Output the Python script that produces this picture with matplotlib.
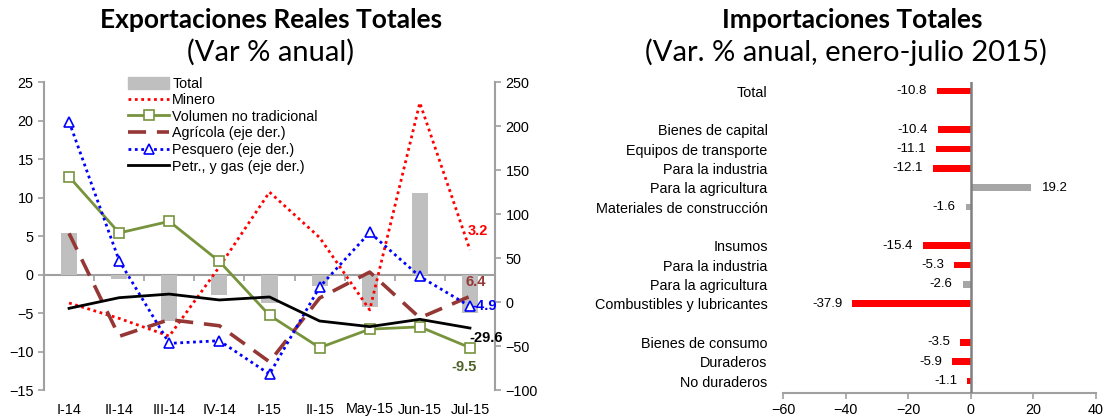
import matplotlib
matplotlib.use("Agg")
import matplotlib.pyplot as plt
from matplotlib.patches import Patch
from matplotlib.lines import Line2D

plt.rcParams['font.family'] = ['Liberation Sans', 'DejaVu Sans']

# ---- left chart data: Exportaciones Reales Totales (Var % anual)
periodos = ["I-14", "II-14", "III-14", "IV-14", "I-15", "II-15", "May-15", "Jun-15", "Jul-15"]
total = [5.4, -0.6, -6.0, -2.7, -3.7, -1.5, -4.2, 10.6, -5.0]
minero = [-3.7, -5.7, -8.0, 1.0, 10.7, 4.8, -4.6, 22.3, 3.2]
volumen_nt = [12.7, 5.4, 6.9, 1.7, -5.3, -9.5, -7.1, -6.8, -9.5]
agricola = [78, -39, -20, -27, -68, 4.5, 34, -18, 6.4]          # eje der.
pesquero = [205, 47, -47, -44, -82, 17, 79, 29, -4.9]            # eje der.
petr_gas = [-7.2, 4.9, 9.0, 2.3, 5.7, -21.6, -28.0, -19.7, -29.6]  # eje der.

# ---- right chart data: Importaciones Totales (enero-julio 2015)
imp_labels = ["Total", "", "Bienes de capital", "Equipos de transporte", "Para la industria",
              "Para la agricultura", "Materiales de construcción", "", "Insumos",
              "Para la industria", "Para la agricultura", "Combustibles y lubricantes", "",
              "Bienes de consumo", "Duraderos", "No duraderos"]
imp_values = [-10.8, None, -10.4, -11.1, -12.1, 19.2, -1.6, None, -15.4, -5.3, -2.6, -37.9,
              None, -3.5, -5.9, -1.1]
gray_rows = [5, 6, 10]   # rows drawn in gray instead of red

AX_GRAY = "#A0A0A0"
RED = "#FF0000"
GREEN = "#77933C"
BROWN = "#953735"
BLUE = "#0000FF"
TITLE_FONT = ["Lato", "DejaVu Sans"]

fig = plt.figure(figsize=(11.04, 4.2), dpi=100)

# ================= left chart =================
ax = fig.add_axes([44/1104, 1-390/420, 451/1104, 308/420])
ax2 = ax.twinx()
x = list(range(len(periodos)))

mk = dict(ms=6.5, mfc="white", mew=1.2)
ax.bar(x, total, width=0.32, color="#BFBFBF", zorder=1)
ax.plot(x, minero, color=RED, lw=2, ls=(0, (1, 1.3)), zorder=3)
ax.plot(x, volumen_nt, color=GREEN, lw=2, marker="s", mec=GREEN, zorder=3, **mk)
ax2.plot(x, agricola, color=BROWN, lw=2.6, ls=(0, (5, 3)), zorder=3)
ax2.plot(x, pesquero, color=BLUE, lw=2, ls=(0, (1, 1.3)), marker="^", mec=BLUE, zorder=3, **mk)
ax2.plot(x, petr_gas, color="black", lw=2, zorder=3)

ax.set_xlim(-0.5, 8.5)
ax.set_ylim(-15, 25)
ax2.set_ylim(-100, 250)
ax.set_yticks(range(-15, 26, 5))
ax2.set_yticks(range(-100, 251, 50))
ax.axhline(0, color=AX_GRAY, lw=1.5, zorder=0.5)

ax.set_xticks(x)
ax.set_xticklabels(periodos, fontsize=10.4)
ax.tick_params(axis="x", length=0, pad=9)
ax.tick_params(axis="y", labelsize=10.4, length=4, width=1.2, color=AX_GRAY, direction="out")
ax2.tick_params(axis="y", labelsize=10.4, length=4, width=1.2, color=AX_GRAY, direction="out")

for a in (ax, ax2):
    for s in ("top", "bottom"):
        a.spines[s].set_visible(False)
ax.spines["right"].set_visible(False)
ax.spines["left"].set_color(AX_GRAY)
ax.spines["left"].set_linewidth(1.5)
ax2.spines["left"].set_visible(False)
ax2.spines["right"].set_color(AX_GRAY)
ax2.spines["right"].set_linewidth(1.5)

# small boundary ticks on zero line
zero_loc = (0 - (-15)) / 40
sec = ax.secondary_xaxis(zero_loc)
sec.set_xticks([i + 0.5 for i in x[:-1]])
sec.tick_params(length=4, width=1.2, color=AX_GRAY, direction="out", labelbottom=False,
                labeltop=False)
sec.spines["bottom"].set_visible(False)
sec.spines["top"].set_visible(False)

handles = [
    Patch(color="#BFBFBF"),
    Line2D([], [], color=RED, lw=2, ls=(0, (1, 1.3))),
    Line2D([], [], color=GREEN, lw=2, marker="s", mec=GREEN, **mk),
    Line2D([], [], color=BROWN, lw=2.6, ls=(0, (5, 3))),
    Line2D([], [], color=BLUE, lw=2, ls=(0, (1, 1.3)), marker="^", mec=BLUE, **mk),
    Line2D([], [], color="black", lw=2),
]
labels = ["Total", "Minero", "Volumen no tradicional", "Agrícola (eje der.)",
          "Pesquero (eje der.)", "Petr., y gas (eje der.)"]
ax2.legend(handles, labels, loc="upper left", bbox_to_anchor=(0.186, 1.017), frameon=False,
           fontsize=10.3, labelspacing=0.18, handlelength=2.9, handletextpad=0.2,
           borderpad=0, borderaxespad=0, handleheight=0.9)

bold = dict(fontsize=10.5, fontweight="bold", ha="center", va="center",
            textcoords="offset pixels")
ax.annotate("3.2", (8, minero[-1]), xytext=(8, 19), color=RED, **bold)
ax2.annotate("6.4", (8, agricola[-1]), xytext=(6, 14), color=BROWN, **bold)
ax2.annotate("-4.9", (8, pesquero[-1]), xytext=(14, 0), color=BLUE, **bold)
ax2.annotate("-29.6", (8, petr_gas[-1]), xytext=(16, -10), color="black", **bold)
ax.annotate("-9.5", (8, volumen_nt[-1]), xytext=(-6, -19), color="#4F6228", **bold)

fig.text(271/1104, 1-20/420, "Exportaciones Reales Totales", ha="center", va="center",
         fontsize=19, fontweight="bold", family=TITLE_FONT)
fig.text(271/1104, 1-52/420, "(Var % anual)", ha="center", va="center",
         fontsize=21, family=TITLE_FONT)

# ================= right chart =================
bx = fig.add_axes([783/1104, 1-393/420, 313/1104, 311/420])
rows = [i for i, v in enumerate(imp_values) if v is not None]
vals = [imp_values[i] for i in rows]
cols = ["#A6A6A6" if i in gray_rows else RED for i in rows]
bx.barh(rows, vals, height=0.35, color=cols, zorder=2)
for r, v in zip(rows, vals):
    if v < 0:
        bx.annotate(f"{v:.1f}", (v, r), xytext=(-10, 0), textcoords="offset pixels",
                    ha="right", va="center", fontsize=9.5)
    else:
        bx.annotate(f"{v:.1f}", (v, r), xytext=(11, 0), textcoords="offset pixels",
                    ha="left", va="center", fontsize=9.5)

bx.set_xlim(-60, 40)
bx.set_ylim(15.62, -0.47)
bx.set_xticks(range(-60, 41, 20))
bx.set_yticks(rows)
bx.set_yticklabels([imp_labels[i] for i in rows], fontsize=10.4)
bx.tick_params(axis="y", length=0, pad=11)
bx.tick_params(axis="x", labelsize=10.4, length=4, width=1.2, color=AX_GRAY, direction="out")
bx.axvline(0, color="#808080", lw=1.8, zorder=3)
for s in ("top", "right", "left"):
    bx.spines[s].set_visible(False)
bx.spines["bottom"].set_color(AX_GRAY)
bx.spines["bottom"].set_linewidth(1.5)

fig.text(852/1104, 1-20/420, "Importaciones Totales", ha="center", va="center",
         fontsize=19, fontweight="bold", family=TITLE_FONT)
fig.text(846/1104, 1-52/420, "(Var. % anual, enero-julio 2015)", ha="center", va="center",
         fontsize=21, family=TITLE_FONT)

fig.savefig("out.png", dpi=100)
